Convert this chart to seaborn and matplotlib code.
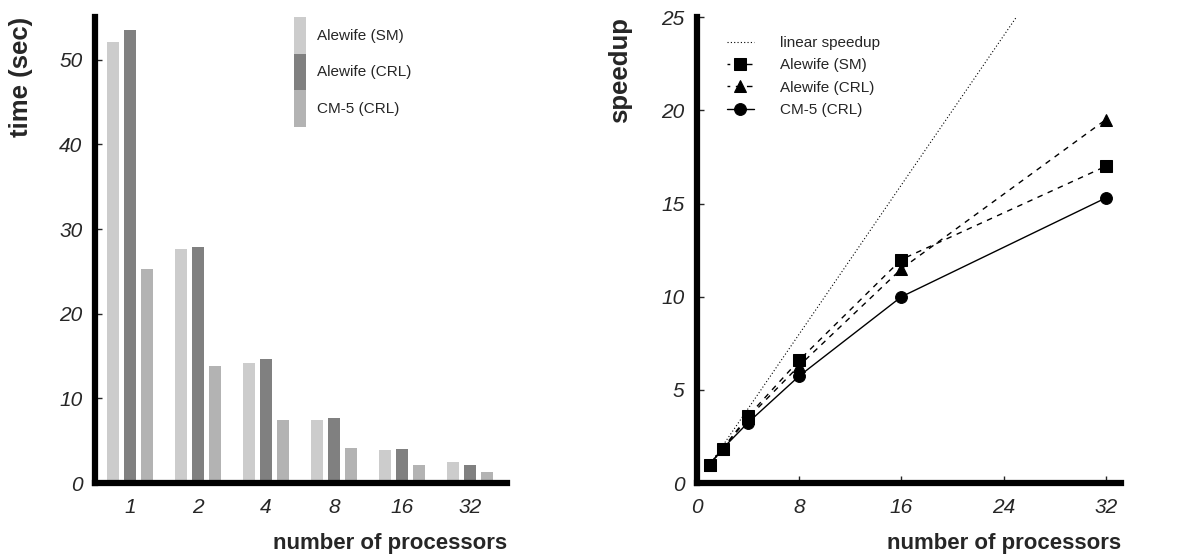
import numpy as np
import pandas as pd
import matplotlib
matplotlib.use("Agg")
import matplotlib.pyplot as plt
from matplotlib.patches import Patch
import seaborn as sns

sns.set_style("ticks")
plt.rcParams['font.family'] = ['Liberation Sans', 'DejaVu Sans']

# left panel: execution time per processor count
proc_labels = ['1', '2', '4', '8', '16', '32']
time_sm = [52.1, 27.7, 14.2, 7.5, 3.9, 2.5]
time_crl = [53.5, 27.9, 14.6, 7.7, 4.0, 2.2]
time_cm5 = [25.3, 13.8, 7.4, 4.1, 2.2, 1.3]

# right panel: speedup
procs = [1, 2, 4, 8, 16, 32]
linear = [1, 2, 4, 8, 16, 32]
speed_sm = [1.0, 1.85, 3.6, 6.6, 12.0, 17.0]
speed_crl = [1.0, 1.85, 3.5, 6.3, 11.5, 19.5]
speed_cm5 = [1.0, 1.85, 3.25, 5.75, 10.0, 15.3]

series = ['Alewife (SM)', 'Alewife (CRL)', 'CM-5 (CRL)']
bar_colors = ['#cccccc', '#808080', '#b3b3b3']

xlabel_font = {'size': 16, 'weight': 'bold'}
ylabel_font = {'size': 18.5, 'weight': 'bold'}
spine_w = 4.5

fig = plt.figure(figsize=(11.82, 5.56), dpi=100)

# ---------------- bar chart ----------------
ax1 = fig.add_axes([0.0804, 0.131, 0.3486, 0.838])
df = pd.DataFrame({
    'procs': proc_labels * 3,
    'series': np.repeat(series, len(proc_labels)),
    'time': time_sm + time_crl + time_cm5,
})
sns.barplot(data=df, x='procs', y='time', hue='series', order=proc_labels,
            hue_order=series, palette=bar_colors, saturation=1,
            width=0.75, gap=0.3, linewidth=0, legend=False, ax=ax1)
ax1.set_xlim(-0.51, 5.54)
ax1.set_ylim(0, 55)
ax1.set_yticks([0, 10, 20, 30, 40, 50])
for lab in ax1.get_xticklabels() + ax1.get_yticklabels():
    lab.set_fontsize(15)
    lab.set_fontstyle('italic')
ax1.tick_params(axis='x', length=0, pad=11)
ax1.tick_params(axis='y', direction='in', length=5, width=1, pad=9)
ax1.set_xlabel('number of processors', fontdict=xlabel_font, loc='right')
ax1.set_ylabel('time (sec)', fontdict=ylabel_font, loc='top')
ax1.xaxis.set_label_coords(1.0, -0.129)
ax1.xaxis.label.set_va('center')
ax1.yaxis.set_label_coords(-0.15, 1.0)
handles = [Patch(facecolor=c, edgecolor='none', label=s) for c, s in zip(bar_colors, series)]
ax1.legend(handles=handles, loc='upper left', bbox_to_anchor=(0.483, 1.0),
           frameon=False, fontsize=11, handlelength=0.8, handleheight=3.3,
           labelspacing=0, borderpad=0, borderaxespad=0, handletextpad=0.7)

# ---------------- speedup chart ----------------
ax2 = fig.add_axes([0.5897, 0.131, 0.3587, 0.838])
sns.lineplot(x=procs, y=linear, ax=ax2, color='black', linestyle=(0, (1, 2)),
             linewidth=0.8, label='linear speedup')
sns.lineplot(x=procs, y=speed_sm, ax=ax2, color='black', linestyle=(2, (4, 4)),
             linewidth=1, marker='s', markersize=8, markeredgecolor='black',
             label='Alewife (SM)')
sns.lineplot(x=procs, y=speed_crl, ax=ax2, color='black', linestyle=(2, (4, 4)),
             linewidth=1, marker='^', markersize=8.5, markeredgecolor='black',
             label='Alewife (CRL)')
sns.lineplot(x=procs, y=speed_cm5, ax=ax2, color='black', linestyle='-',
             linewidth=1, marker='o', markersize=8.5, markeredgecolor='black',
             label='CM-5 (CRL)')
ax2.set_xlim(0, 33.2)
ax2.set_ylim(0, 25)
ax2.set_xticks([0, 8, 16, 24, 32])
ax2.set_yticks([0, 5, 10, 15, 20, 25])
for lab in ax2.get_xticklabels() + ax2.get_yticklabels():
    lab.set_fontsize(15)
    lab.set_fontstyle('italic')
ax2.tick_params(axis='x', direction='in', length=5, width=1, pad=11)
ax2.tick_params(axis='y', direction='in', length=5, width=1, pad=9)
ax2.set_xlabel('number of processors', fontdict=xlabel_font, loc='right')
ax2.set_ylabel('speedup', fontdict=ylabel_font, loc='top')
ax2.xaxis.set_label_coords(1.0, -0.129)
ax2.xaxis.label.set_va('center')
ax2.yaxis.set_label_coords(-0.153, 1.0)
ax2.legend(loc='upper left', bbox_to_anchor=(0.07, 0.96), frameon=False,
           fontsize=11, handlelength=1.8, handletextpad=1.7, labelspacing=0.55,
           borderpad=0, borderaxespad=0)

for ax in (ax1, ax2):
    sns.despine(ax=ax)
    for side in ('left', 'bottom'):
        ax.spines[side].set_linewidth(spine_w)
        ax.spines[side].set_color('black')

fig.savefig('out.png', dpi=100)
